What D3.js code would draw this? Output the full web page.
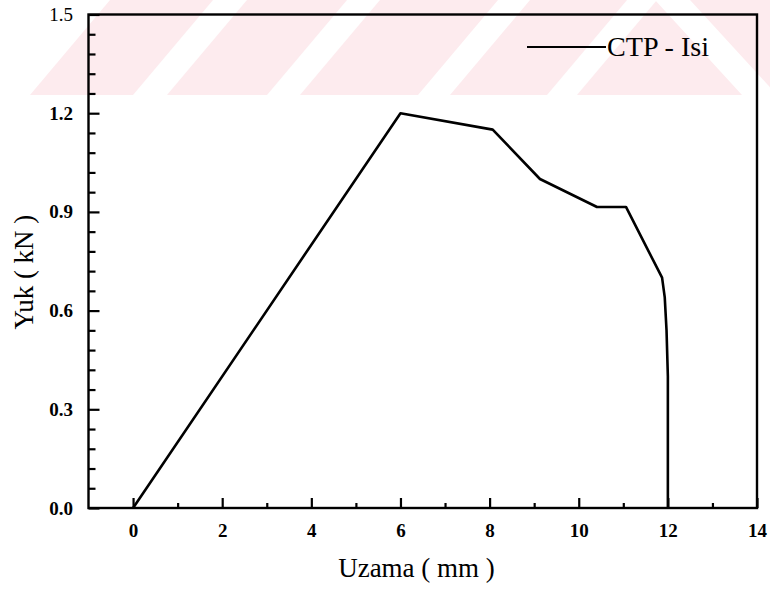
<!DOCTYPE html>
<html>
<head>
<meta charset="utf-8">
<script src="https://cdn.jsdelivr.net/npm/d3@7"></script>
<style>
  html, body { margin: 0; padding: 0; background: #fff; }
  svg { display: block; }
  text { font-family: "Liberation Serif", "DejaVu Serif", "Times New Roman", Times, serif; fill: #000; }
</style>
</head>
<body>
<svg id="chart" width="770" height="590"></svg>
<script>
// Load–elongation curve (Uzama in mm, Yuk in kN)
const elongation = [0, 6.0, 8.07, 9.13, 10.41, 11.06, 11.87, 11.93, 11.97, 12.0, 12.0];
const load       = [0, 1.2, 1.15, 1.0, 0.915, 0.915, 0.70, 0.64, 0.54, 0.40, 0.0];

const seriesName = "CTP - Isi";
const xTicks = [0, 2, 4, 6, 8, 10, 12, 14];
const xMinorTicks = [1, 3, 5, 7, 9, 11, 13];
const yTicks = [0.0, 0.3, 0.6, 0.9, 1.2, 1.5];
const yTickLabels = ["0.0", "0.3", "0.6", "0.9", "1.2", "1.5"];
const yMinorTicks = [0.06, 0.12, 0.18, 0.24, 0.36, 0.42, 0.48, 0.54, 0.66, 0.72, 0.78, 0.84,
                     0.96, 1.02, 1.08, 1.14, 1.26, 1.32, 1.38, 1.44];
const xTitle = "Uzama ( mm )";
const yTitle = "Yuk ( kN )";

const serif = "'Liberation Serif', 'DejaVu Serif', 'Times New Roman', Times, serif";
const svg = d3.select("#chart");

// Faint pink striped band across the top of the page
const band = svg.append("g").attr("class", "band");
band.append("polygon")
  .attr("points", "30,95 110,0 770,0 770,95")
  .attr("fill", "#fdebee");
const gaps = [[133, 167], [267, 300], [418, 450], [547, 577]];
gaps.forEach(([a, b]) => {
  band.append("polygon")
    .attr("points", `${a},95 ${b},95 ${b + 80},0 ${a + 80},0`)
    .attr("fill", "#fff");
});
band.append("polygon")
  .attr("points", "655,0 690,0 777,95 742,95")
  .attr("fill", "#fff");

// Scales
const x = d3.scaleLinear().domain([-1, 14]).range([88.5, 757]);
const y = d3.scaleLinear().domain([0, 1.5]).range([508, 14.5]);

const tickFont = 19;

// Bottom axis: major ticks with labels, minor ticks without
svg.append("g")
  .attr("transform", `translate(0,${y(0)})`)
  .call(d3.axisBottom(x).tickValues(xTicks).tickSize(-10).tickPadding(15.5).tickFormat(d3.format("d")));
svg.append("g")
  .attr("transform", `translate(0,${y(0)})`)
  .call(d3.axisBottom(x).tickValues(xMinorTicks).tickSize(-5).tickFormat(""));

// Left axis
const yAxis = svg.append("g")
  .attr("transform", `translate(${x(-1)},0)`)
  .call(d3.axisLeft(y).tickValues(yTicks).tickSize(-11).tickPadding(15.5)
        .tickFormat((d, i) => yTickLabels[i]));
svg.append("g")
  .attr("transform", `translate(${x(-1)},0)`)
  .call(d3.axisLeft(y).tickValues(yMinorTicks).tickSize(-7).tickFormat(""));

svg.selectAll(".domain").remove();
svg.selectAll(".tick line").attr("stroke", "#000").attr("stroke-width", 2.2);
svg.selectAll("g[font-family]").attr("font-family", serif);
svg.selectAll(".tick text")
  .style("font-family", serif)
  .style("font-size", tickFont + "px")
  .style("font-weight", "bold")
  .attr("fill", "#000");
yAxis.selectAll(".tick text").filter(d => d === 1.5).style("font-weight", "normal");

// Plot frame
svg.append("rect")
  .attr("x", x(-1)).attr("y", y(1.5))
  .attr("width", x(14) - x(-1)).attr("height", y(0) - y(1.5))
  .attr("fill", "none").attr("stroke", "#000").attr("stroke-width", 2.4);

// Curve
const pts = elongation.map((e, i) => [e, load[i]]);
svg.append("path")
  .datum(pts)
  .attr("d", d3.line().x(d => x(d[0])).y(d => y(d[1])))
  .attr("fill", "none")
  .attr("stroke", "#000")
  .attr("stroke-width", 2.6)
  .attr("stroke-linejoin", "round");

// Legend
svg.append("line")
  .attr("x1", 527).attr("x2", 606).attr("y1", 47).attr("y2", 47)
  .attr("stroke", "#000").attr("stroke-width", 2);
svg.append("text")
  .attr("x", 607).attr("y", 56)
  .style("font-family", serif)
  .style("font-size", "28px")
  .attr("textLength", 102).attr("lengthAdjust", "spacingAndGlyphs")
  .text(seriesName);

// Axis titles
svg.append("text")
  .attr("x", 416.5).attr("y", 577)
  .attr("text-anchor", "middle")
  .style("font-family", serif)
  .style("font-size", "27px")
  .text(xTitle);
svg.append("text")
  .attr("transform", "translate(33,272) rotate(-90)")
  .attr("text-anchor", "middle")
  .style("font-family", serif)
  .style("font-size", "27px")
  .text(yTitle);
</script>
</body>
</html>
